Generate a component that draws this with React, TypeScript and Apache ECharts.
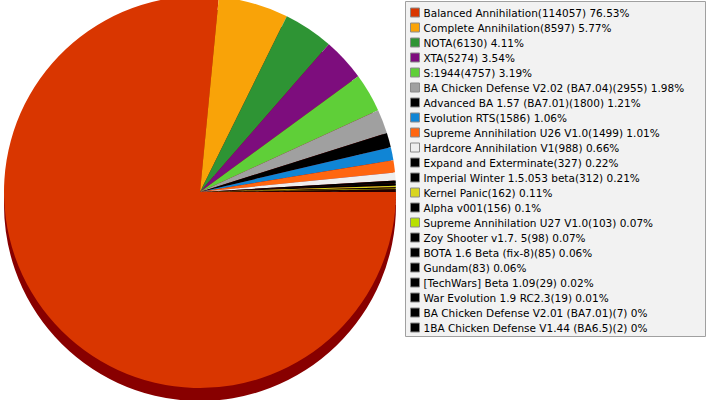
import React, { useEffect, useRef } from "react";
import * as echarts from "echarts";

const categories = [
  "Balanced Annihilation",
  "Complete Annihilation",
  "NOTA",
  "XTA",
  "S:1944",
  "BA Chicken Defense V2.02 (BA7.04)",
  "Advanced BA 1.57 (BA7.01)",
  "Evolution RTS",
  "Supreme Annihilation U26 V1.0",
  "Hardcore Annihilation V1",
  "Expand and Exterminate",
  "Imperial Winter 1.5.053 beta",
  "Kernel Panic",
  "Alpha v001",
  "Supreme Annihilation U27 V1.0",
  "Zoy Shooter v1.7. 5",
  "BOTA 1.6 Beta (fix-8)",
  "Gundam",
  "[TechWars] Beta 1.09",
  "War Evolution 1.9 RC2.3",
  "BA Chicken Defense V2.01 (BA7.01)",
  "1BA Chicken Defense V1.44 (BA6.5)",
];

const values = [
  114057, 8597, 6130, 5274, 4757, 2955, 1800, 1586, 1499, 988, 327, 312, 162,
  156, 103, 98, 85, 83, 29, 19, 7, 2,
];

const colors = [
  "#D93600", "#F9A308", "#2E9434", "#7D0D7D", "#5FCF38", "#A0A0A0", "#000000",
  "#1085D5", "#FF6610", "#EEEEEE", "#000000", "#000000", "#D9D520", "#000000",
  "#B8E000", "#000000", "#000000", "#000000", "#000000", "#000000", "#000000",
  "#000000",
];

const total = values.reduce((a, b) => a + b, 0);

export default function App() {
  const ref = useRef<HTMLDivElement>(null);

  useEffect(() => {
    if (!ref.current) return;
    const chart = echarts.init(ref.current, null, { renderer: "svg" });
    const topData = categories.map((name, i) => ({
      name,
      value: values[i],
      itemStyle: { color: colors[i] },
    }));
    const baseData = values.map((v) => ({ value: v }));
    chart.setOption({
      animation: false,
      backgroundColor: "#FFFFFF",
      graphic: [
        {
          type: "rect",
          z: 0,
          shape: { x: 405.5, y: 1.5, width: 300, height: 335 },
          style: { fill: "#F2F2F2", stroke: "#A0A0A0", lineWidth: 1 },
          silent: true,
        },
      ],
      legend: {
        show: true,
        orient: "vertical",
        left: 410,
        top: 7,
        padding: 0,
        itemWidth: 9,
        itemHeight: 9,
        itemGap: 4,
        icon: "rect",
        selectedMode: false,
        data: categories,
        itemStyle: { borderColor: "#8A8A8A", borderWidth: 1 },
        textStyle: {
          fontFamily: "DejaVu Sans",
          fontSize: 10.5,
          lineHeight: 10,
          color: "#000000",
          padding: [0, 0, 0, -1],
        },
        formatter: (name: string) => {
          const i = categories.indexOf(name);
          const pct = parseFloat(((values[i] / total) * 100).toFixed(2));
          return `${name}(${values[i]}) ${pct}%`;
        },
      },
      series: [
        {
          type: "pie",
          name: "top",
          z: 3,
          center: [200, 192],
          radius: [0, 196],
          startAngle: 0,
          clockwise: true,
          silent: true,
          label: { show: false },
          labelLine: { show: false },
          emphasis: { disabled: true },
          itemStyle: { borderWidth: 0 },
          data: topData,
        },
        {
          type: "pie",
          name: "base",
          z: 2,
          center: [200, 205],
          radius: [0, 196],
          startAngle: 0,
          clockwise: true,
          silent: true,
          label: { show: false },
          labelLine: { show: false },
          emphasis: { disabled: true },
          itemStyle: { color: "#880000", borderWidth: 0 },
          data: baseData,
        },
      ],
    });
    return () => chart.dispose();
  }, []);

  return (
    <div
      ref={ref}
      style={{ position: "fixed", left: 0, top: 0, width: 707, height: 400 }}
    />
  );
}
